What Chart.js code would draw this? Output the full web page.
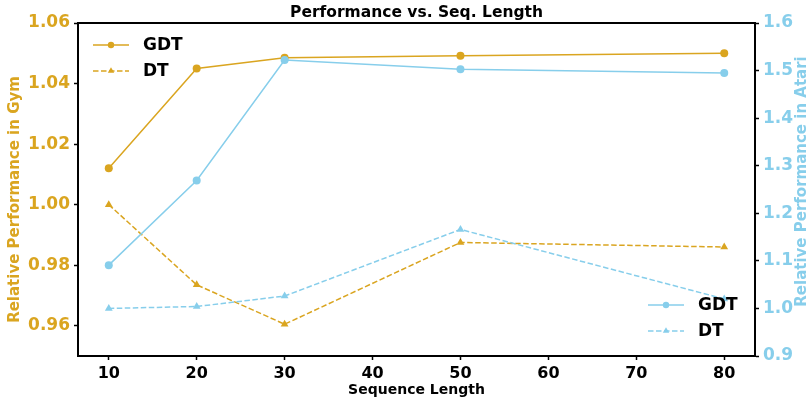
<!DOCTYPE html>
<html>
<head>
<meta charset="utf-8">
<script src="https://cdn.jsdelivr.net/npm/chart.js@4/dist/chart.umd.min.js"></script>
<style>
  html,body{margin:0;padding:0;background:#fff;}
  #wrap{width:807px;height:400px;}
</style>
</head>
<body>
<div id="wrap"><canvas id="chart" width="807" height="400"></canvas></div>
<script>
// data
const seqLen = [10, 20, 30, 50, 80];
const gymGDT = [1.012, 1.045, 1.0485, 1.0492, 1.050];
const gymDT = [1.000, 0.9735, 0.9605, 0.9875, 0.986];
const atariGDT = [1.091, 1.269, 1.522, 1.503, 1.495];
const atariDT = [1.000, 1.004, 1.026, 1.166, 1.020];

const xTicks = [10, 20, 30, 40, 50, 60, 70, 80];
const gymTicks = [0.96, 0.98, 1.00, 1.02, 1.04, 1.06];
const atariTicks = [0.9, 1.0, 1.1, 1.2, 1.3, 1.4, 1.5, 1.6];

const colors = { gym:'#DAA520', atari:'#87CEEB', ink:'#000' };
const FONT = "'DejaVu Sans', sans-serif";

function pts(ys){ return seqLen.map((x,i)=>({x, y:ys[i]})); }

function series(label, ys, color, axis, dashed, order){
  return {
    label, data:pts(ys), yAxisID:axis, order,
    borderColor:color, backgroundColor:color,
    borderWidth:1.5, borderDash: dashed ? [5.5,2.5] : [],
    pointStyle: dashed ? 'triangle' : 'circle',
    pointRadius: dashed ? 4.5 : 4, pointBorderWidth:0,
    tension:0, fill:false
  };
}

// frame on top of the plot area
const framePlugin = {
  id:'frame',
  afterDraw(chart){
    const {ctx, chartArea:a} = chart;
    ctx.save();
    ctx.strokeStyle = colors.ink; ctx.lineWidth = 2;
    ctx.strokeRect(a.left, a.top, a.right-a.left, a.bottom-a.top);
    ctx.restore();
  }
};

// y axis titles, both reading bottom to top like matplotlib
const sideTitles = {
  id:'sideTitles',
  afterDraw(chart){
    const {ctx, chartArea:a} = chart;
    const mid = (a.top + a.bottom)/2;
    const items = [
      {text:'Relative Performance in Gym', color:colors.gym, x:15.5, y:mid+10},
      {text:'Relative Performance in Atari', color:colors.atari, x:802, y:mid-8}
    ];
    ctx.save();
    ctx.font = "bold 15px " + FONT;
    ctx.textAlign = 'center'; ctx.textBaseline = 'middle';
    items.forEach(t=>{
      ctx.save();
      ctx.translate(t.x, t.y); ctx.rotate(-Math.PI/2);
      ctx.fillStyle = t.color; ctx.fillText(t.text, 0, 0);
      ctx.restore();
    });
    ctx.restore();
  }
};

// two legends: gym top-left, atari bottom-right
const twoLegends = {
  id:'twoLegends',
  afterDraw(chart){
    const {ctx, chartArea:a} = chart;
    const groups = [
      {axis:'y', x:a.left+15, y:a.top+22},
      {axis:'y1', x:a.right-107, y:a.bottom-51}
    ];
    ctx.save();
    groups.forEach(g=>{
      chart.data.datasets.filter(d=>d.yAxisID===g.axis).forEach((d,i)=>{
        const y = g.y + i*26;
        ctx.strokeStyle = d.borderColor; ctx.lineWidth = d.borderWidth;
        ctx.setLineDash(d.borderDash);
        ctx.beginPath(); ctx.moveTo(g.x, y); ctx.lineTo(g.x+36, y); ctx.stroke();
        ctx.setLineDash([]);
        ctx.fillStyle = d.backgroundColor; ctx.strokeStyle = d.backgroundColor;
        Chart.helpers.drawPoint(ctx, {pointStyle:d.pointStyle, radius:d.pointRadius-0.8, borderWidth:0}, g.x+18, y);
        ctx.fillStyle = colors.ink;
        ctx.font = "bold 17px " + FONT;
        ctx.textBaseline = 'middle';
        ctx.fillText(d.label, g.x+50, y+1);
      });
    });
    ctx.restore();
  }
};

function fixTicks(list){ return scale => { scale.ticks = list.map(v=>({value:v})); }; }

const tickGrid = { display:true, drawOnChartArea:false, drawTicks:true, tickLength:4, tickColor:colors.ink, tickWidth:1.5 };
const axisBorder = { display:true, color:colors.ink, width:2 };

new Chart(document.getElementById('chart'), {
  type:'line',
  data:{ datasets:[
    series('GDT', gymGDT, colors.gym, 'y', false, 1),
    series('DT', gymDT, colors.gym, 'y', true, 1),
    series('GDT', atariGDT, colors.atari, 'y1', false, 0),
    series('DT', atariDT, colors.atari, 'y1', true, 0)
  ]},
  options:{
    responsive:false, animation:false, devicePixelRatio:1,
    layout:{ padding:0 },
    plugins:{
      legend:{ display:false },
      tooltip:{ enabled:false },
      title:{
        display:true, text:'Performance vs. Seq. Length', fullSize:false,
        color:colors.ink, font:{ family:FONT, size:15.5, weight:'bold', lineHeight:1.2 },
        padding:{ top:3.5, bottom:0.9 }
      }
    },
    scales:{
      x:{
        type:'linear', min:6.5, max:83.5,
        afterBuildTicks: fixTicks(xTicks),
        afterFit: s => { s.height = 44; },
        grid: tickGrid, border: axisBorder,
        ticks:{ color:colors.ink, padding:4, font:{ family:FONT, size:16, weight:'bold' } },
        title:{ display:true, text:'Sequence Length', color:colors.ink, padding:{top:2,bottom:1},
                font:{ family:FONT, size:14, weight:'bold', lineHeight:1.2 } }
      },
      y:{
        type:'linear', position:'left', min:0.95, max:1.06,
        afterBuildTicks: fixTicks(gymTicks),
        afterFit: s => { s.width = 78; },
        grid: tickGrid, border: axisBorder,
        ticks:{ color:colors.gym, padding:4, callback:v=>v.toFixed(2),
                font:{ family:FONT, size:17, weight:'bold' } }
      },
      y1:{
        type:'linear', position:'right', min:0.9, max:1.6,
        afterBuildTicks: fixTicks(atariTicks),
        afterFit: s => { s.width = 52; },
        grid: tickGrid, border: axisBorder,
        ticks:{ color:colors.atari, padding:4, callback:v=>v.toFixed(1),
                font:{ family:FONT, size:17, weight:'bold' } }
      }
    }
  },
  plugins:[framePlugin, sideTitles, twoLegends]
});
</script>
</body>
</html>
